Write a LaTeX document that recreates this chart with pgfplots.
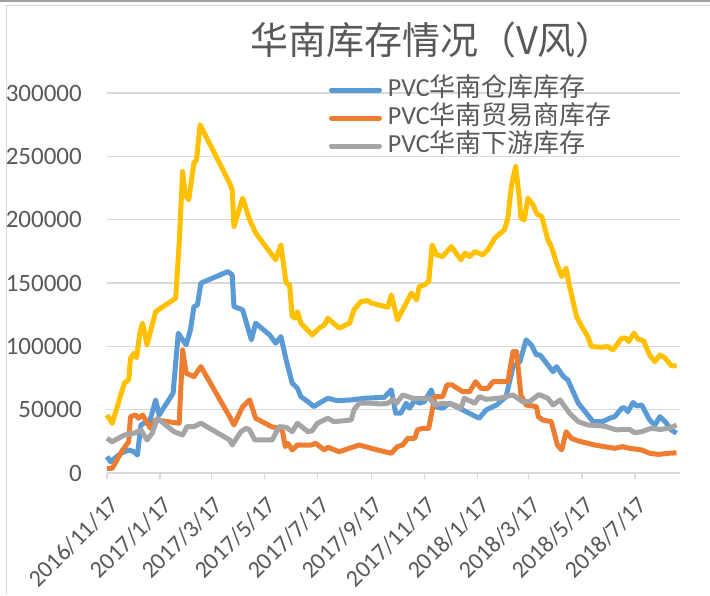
\documentclass[border=0pt]{standalone}
\usepackage{fontspec}
\setmainfont{Carlito}
\newfontfamily\cjk{Noto Sans CJK SC}
\usepackage{pgfplots}
\pgfplotsset{compat=1.18}
\definecolor{cblue}{HTML}{5B9BD5}
\definecolor{corange}{HTML}{ED7D31}
\definecolor{cgray}{HTML}{A5A5A5}
\definecolor{cyellow}{HTML}{FFC000}
\definecolor{txt}{HTML}{595959}
\definecolor{gridc}{HTML}{D9D9D9}
\definecolor{framec}{HTML}{A0A0A0}
\begin{document}
\begin{tikzpicture}[x=1pt,y=1pt]
\useasboundingbox (0,0) rectangle (710,595);
\draw[framec, line width=2pt] (0,594) -- (710,594);
\draw[gridc, line width=1pt] (6,589) -- (710,589);
\draw[gridc, line width=1pt] (6,589) -- (6,0);
\node[txt, font=\cjk\fontsize{38}{44}\selectfont] at (432,555) {华南库存情况（V风）};
\begin{axis}[
  at={(107pt,122pt)}, anchor=south west, scale only axis,
  width=573pt, height=380pt,
  xmin=0, xmax=659, ymin=0, ymax=300000,
  clip=false,
  axis lines*=left, axis line style={-},
  x axis line style={gridc, line width=1.5pt},
  y axis line style={draw=none},
  xtick={0,61,120,181,242,304,365,426,485,546,607},
  xticklabels={2016/11/17,2017/1/17,2017/3/17,2017/5/17,2017/7/17,2017/9/17,2017/11/17,2018/1/17,2018/3/17,2018/5/17,2018/7/17},
  ytick={0,50000,100000,150000,200000,250000,300000},
  scaled y ticks=false,
  /pgf/number format/fixed,
  /pgf/number format/1000 sep={},
  /pgf/number format/assume math mode=true,
  tick align=outside, major tick length=6pt,
  xtick style={gridc, line width=1.5pt},
  ytick style={draw=none},
  ymajorgrids, grid style={gridc, line width=1.5pt},
  tick label style={txt, font=\fontsize{24}{28}\selectfont},
  yticklabel style={anchor=east, inner sep=0pt, xshift=-19pt, font=\fontsize{25}{28}\selectfont},
  xticklabel style={rotate=45, anchor=north east, inner sep=0pt, xshift=2pt},
  xticklabel shift=17pt,
  legend style={at={(0.387,1.04)}, anchor=north west, draw=none, fill=none,
    inner sep=0pt, row sep=4pt, column sep=6pt,
    font=\fontsize{26}{30}\selectfont, text=txt,
    nodes={inner sep=0pt, text height=18pt, text depth=6pt}},
  legend cell align=left,
  legend image code/.code={\draw[#1, line width=5pt, line cap=round] (0pt,0pt) -- (48pt,0pt);},
  every axis plot/.append style={line width=5pt, line join=round},
]
\addplot[cblue] coordinates {
(0,12900)(4,8900)(16,15600)(25,18200)(31,16800)(35,14200)(39,37900)(45,40500)(48,37900)
(56,57700)(60,45800)(76,63000)(82,110400)(87,105100)(91,101100)(96,113000)(100,131400)
(104,132700)(108,149900)(139,159000)(144,156400)(146,131400)(156,128800)(166,105100)
(171,118300)(187,109000)(194,102500)(200,107700)(206,89300)(213,70900)(219,66900)
(223,60300)(231,56300)(238,52400)(244,55100)(254,59000)(265,57100)(281,57700)(296,59000)
(319,59800)(327,65600)(332,47200)(338,47200)(344,55100)(348,51100)(354,57700)(359,55100)
(365,56300)(373,65600)(378,52400)(386,51100)(394,55100)(409,49800)(428,43200)(436,49800)
(448,53700)(459,60300)(467,84000)(475,87900)(482,105100)(488,101100)(494,93200)(498,93200)
(513,80000)(517,84000)(521,80000)(525,76100)(530,73500)(542,55100)(553,45800)(559,40500)
(570,40500)(578,43200)(584,44500)(592,51100)(595,51600)(599,48400)(605,55600)(609,52900)
(615,53700)(624,41900)(630,37900)(636,44500)(642,40500)(649,34000)(655,31400)
};
\addlegendentry{PVC{\cjk 华南仓库库存}}
\addplot[corange] coordinates {
(0,3700)(6,3700)(18,18200)(25,24700)(27,44500)(33,45800)(36,43200)(41,45800)(50,35300)
(56,41900)(83,39300)(87,97200)(91,78800)(100,76100)(108,84000)(141,44500)(146,37900)
(156,52400)(164,57700)(171,43200)(189,36600)(198,35300)(202,32600)(205,20800)(208,23400)
(213,18200)(219,22100)(235,22100)(240,23400)(250,18200)(254,20300)(267,16800)(290,22100)
(311,18200)(327,15600)(334,20800)(340,22100)(346,27400)(354,27400)(357,34000)(363,35300)
(370,35300)(377,60300)(386,60300)(391,69500)(397,69500)(409,64200)(417,64200)(424,72100)
(430,66900)(438,66900)(444,72100)(461,72100)(467,95800)(471,95800)(476,61600)(482,53700)
(494,52400)(496,44500)(501,41900)(511,40500)(518,22100)(523,18200)(528,32600)(534,27400)
(542,25300)(561,22100)(572,20800)(584,19500)(593,20800)(601,19500)(615,18200)(624,15600)
(634,14700)(647,15600)(655,16000)
};
\addlegendentry{PVC{\cjk 华南贸易商库存}}
\addplot[cgray] coordinates {
(0,27400)(6,24700)(20,30000)(31,31400)(39,34000)(46,26100)(52,31400)(58,43200)(77,32600)
(87,30000)(92,36600)(100,36600)(108,39300)(141,26100)(144,22100)(154,32600)(160,35300)
(164,34000)(170,26100)(190,26100)(198,36600)(206,36100)(213,32600)(219,39300)(231,32600)
(236,33400)(242,39300)(254,43200)(261,40500)(281,41900)(284,49800)(290,55100)(304,55100)
(315,54500)(323,55100)(329,58000)(333,55100)(340,61600)(352,59000)(371,59000)(377,53700)
(386,55100)(400,53700)(407,51100)(411,59000)(423,55100)(428,60300)(436,58200)(451,59000)
(467,61600)(478,56300)(486,56300)(496,61600)(498,61600)(507,59000)(513,53700)(521,57700)
(532,47200)(542,40500)(553,37900)(569,37100)(574,36600)(586,34000)(593,34400)(601,34400)
(607,31800)(615,32600)(626,35300)(636,34400)(647,35300)(655,37900)
};
\addlegendentry{PVC{\cjk 华南下游库存}}
\addplot[cyellow, forget plot] coordinates {
(0,45800)(6,39200)(20,71000)(25,73500)(27,90600)(31,94500)(34,90800)(38,111600)(41,118300)
(46,101100)(56,127400)(79,138000)(83,181400)(87,238000)(90,219600)(94,215700)(100,244700)
(103,247300)(107,274900)(141,228900)(144,223600)(146,194600)(156,217000)(164,200000)
(171,189400)(194,168300)(200,180100)(206,149900)(210,148500)(213,123500)(217,122200)
(219,127400)(223,118300)(236,109000)(244,114300)(250,116900)(254,122200)(267,114300)
(279,118300)(284,128800)(292,135300)(300,136100)(304,134100)(323,130900)(327,140600)
(334,120900)(340,128800)(350,142000)(356,136700)(359,147200)(365,148500)(370,151100)
(374,180100)(379,172200)(386,170900)(396,178800)(407,168300)(412,173600)(417,170900)
(423,174800)(432,172200)(438,176200)(446,185400)(457,192000)(461,201200)(465,226200)
(470,242000)(474,218300)(476,201200)(480,199900)(484,217000)(490,211700)(494,205200)
(496,203800)(500,202500)(507,184100)(511,178800)(517,165700)(523,155100)(528,161700)
(532,147200)(540,123500)(546,115600)(553,107700)(557,99800)(569,99300)(576,99800)
(582,97200)(592,106400)(597,106400)(600,103700)(606,110400)(611,105600)(617,104500)
(624,93200)(630,87900)(636,93200)(642,90600)(649,84500)(655,84500)
};
\end{axis}
\end{tikzpicture}
\end{document}
